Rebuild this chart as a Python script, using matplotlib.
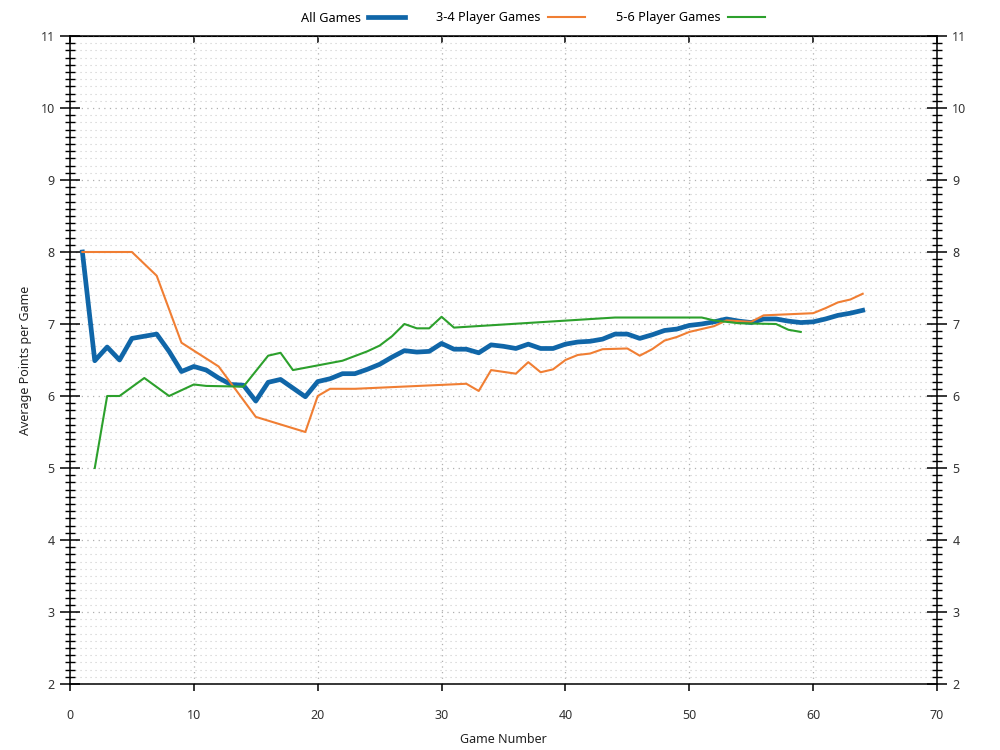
import matplotlib
matplotlib.use("Agg")
import matplotlib.pyplot as plt
from matplotlib.ticker import MultipleLocator

plt.rcParams["font.family"] = ["Noto Sans", "DejaVu Sans"]

# cumulative average points per game
all_games_x = list(range(1, 65))
all_games_y = [8.00, 6.49, 6.68, 6.50, 6.80, 6.83, 6.86, 6.62, 6.34, 6.41,
               6.36, 6.25, 6.16, 6.15, 5.93, 6.19, 6.23, 6.11, 5.99, 6.20,
               6.24, 6.31, 6.31, 6.37, 6.44, 6.54, 6.63, 6.61, 6.62, 6.73,
               6.65, 6.65, 6.60, 6.71, 6.69, 6.66, 6.72, 6.66, 6.66, 6.72,
               6.75, 6.76, 6.79, 6.86, 6.86, 6.80, 6.85, 6.91, 6.93, 6.98,
               7.00, 7.03, 7.07, 7.04, 7.02, 7.07, 7.07, 7.04, 7.02, 7.03,
               7.07, 7.12, 7.15, 7.19]

small_x = [1, 5, 7, 9, 12, 15, 19, 20, 21, 23,
           32, 33, 34, 36, 37, 38, 39, 40, 41, 42,
           43, 45, 46, 47, 48, 49, 50, 51, 52, 53,
           55, 56, 60, 61, 62, 63, 64]
small_y = [8.00, 8.00, 7.67, 6.74, 6.41, 5.71, 5.50, 6.00, 6.10, 6.10,
           6.17, 6.07, 6.36, 6.31, 6.47, 6.33, 6.37, 6.50, 6.57, 6.59,
           6.65, 6.66, 6.56, 6.65, 6.77, 6.82, 6.89, 6.93, 6.97, 7.05,
           7.03, 7.12, 7.15, 7.22, 7.30, 7.34, 7.42]

big_x = [2, 3, 4, 6, 8, 10, 11, 14, 16, 17,
         18, 22, 24, 25, 26, 27, 28, 29, 30, 31,
         44, 51, 52, 54, 57, 58, 59]
big_y = [5.00, 6.00, 6.00, 6.25, 6.00, 6.16, 6.14, 6.13, 6.56, 6.60,
         6.36, 6.49, 6.62, 6.70, 6.83, 7.00, 6.94, 6.94, 7.10, 6.95,
         7.09, 7.09, 7.05, 7.01, 7.00, 6.92, 6.89]

fig = plt.figure(figsize=(10, 7.5), dpi=100)
ax = fig.add_axes([0.07, 0.088, 0.867, 0.864])

ax.plot(all_games_x, all_games_y, color="#1066a8", linewidth=3.4,
        label="All Games", zorder=3)
ax.plot(small_x, small_y, color="#f07e33", linewidth=1.5,
        label="3-4 Player Games", zorder=4)
ax.plot(big_x, big_y, color="#2ca02c", linewidth=1.5,
        label="5-6 Player Games", zorder=4)

ax.set_xlim(0, 70)
ax.set_ylim(2, 11)
ax.xaxis.set_major_locator(MultipleLocator(10))
ax.yaxis.set_major_locator(MultipleLocator(1))
ax.yaxis.set_minor_locator(MultipleLocator(0.1))

dots = (0, (1, 3.5))
ax.grid(which="major", axis="both", color="#b0b0b0", linestyle=dots, linewidth=0.9)
ax.grid(which="minor", axis="y", color="#cccccc", linestyle=dots, linewidth=0.8)
ax.set_axisbelow(True)

for s in ax.spines.values():
    s.set_linewidth(1.1)
    s.set_color("black")

ax.tick_params(axis="x", direction="out", length=5, width=1.1,
               labelsize=9, pad=13, colors="black", labelcolor="#333333")
ax.tick_params(axis="y", which="major", direction="inout", length=14, width=1.1,
               left=True, right=True, labelleft=True, labelright=True,
               labelsize=9, pad=4, labelcolor="#333333")
ax.tick_params(axis="y", which="minor", direction="inout", length=7.5, width=1.0,
               left=True, right=True)

top = ax.secondary_xaxis("top")
top.xaxis.set_major_locator(MultipleLocator(10))
top.tick_params(direction="in", length=5, width=1.1, labeltop=False)

ax.set_xlabel("Game Number", fontsize=9, color="#222222", labelpad=8)
ax.set_ylabel("Average Points per Game", fontsize=9, color="#222222", labelpad=6)

fig.legend(loc="upper center", bbox_to_anchor=(0.533, 1.0), ncol=3,
           frameon=False, markerfirst=False, fontsize=9.2, handlelength=2.9,
           columnspacing=2.45, handletextpad=0.55)

plt.savefig("out.png", dpi=100)
plt.close()
